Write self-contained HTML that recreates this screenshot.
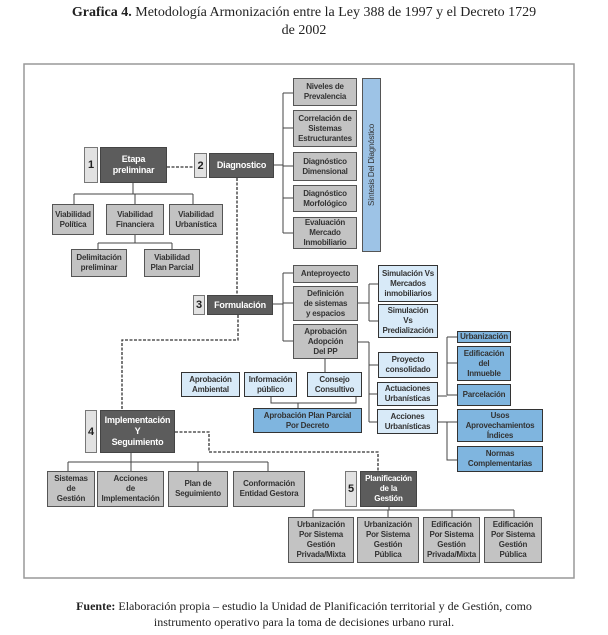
<!DOCTYPE html>
<html><head><meta charset="utf-8"><style>
body{margin:0;width:608px;height:635px;background:#fff;position:relative;overflow:hidden;font-family:"Liberation Sans",sans-serif}
.t{position:absolute;left:0;width:608px;text-align:center;font-family:"Liberation Serif",serif;font-size:14px;color:#222}
.b{position:absolute;box-sizing:border-box;display:flex;align-items:center;justify-content:center;text-align:center;font-size:8px;font-weight:bold;line-height:10px;color:#333;border:1.5px solid #555;background:#c3c3c3;letter-spacing:-0.2px}
.d{background:#5c5c5c;color:#fff;border-color:#444;font-size:9px;line-height:11px}
.n{background:#e2e2e2;color:#222;font-size:11px;border-color:#777}
.l{background:#d8eaf8;border-color:#333}
.m{background:#7fb5df;border-color:#333}
svg{position:absolute;left:0;top:0}
</style></head><body>
<div class="t" style="top:5px"><b>Grafica 4.</b> Metodología Armonización entre la Ley 388 de 1997 y el Decreto 1729</div>
<div class="t" style="top:23px">de 2002</div>
<svg width="608" height="635">
<rect x="24" y="64" width="550" height="514" fill="none" stroke="#999" stroke-width="1.5"/>
<g stroke="#444" stroke-width="1" fill="none">
<path d="M273 165H283M283 93V233M283 93H293M283 128H293M283 166H293M283 198H293M283 233H293"/>
<path d="M133 183V194M74 194H193M74 194V204M135 194V204M193 194V204"/>
<path d="M135 235V243M98 243H172M98 243V249M172 243V249"/>
<path d="M273 304H283M283 273V341M283 273H293M283 303H293M283 341H293"/>
<path d="M358 303H369M369 284V321M369 284H378M369 321H378"/>
<path d="M358 342H369M369 342V422M369 365H378M369 394H377M369 422H377"/>
<path d="M438 396H447M447 337V395M447 337H457M447 363H457M447 395H457"/>
<path d="M438 422H457M447 422V460H457"/>
<path d="M325 359V372M271 397V403H356V397M298 403V408"/>
<path d="M131 453V462M68 462H268M68 462V471M131 462V471M198 462V471M268 462V471"/>
<path d="M389 507V510M313 510H514M313 510V517M388 510V517M452 510V517M514 510V517"/>
</g>
<g stroke="#333" stroke-width="1.3" fill="none" stroke-dasharray="3,1.5">
<path d="M167 167H194"/>
<path d="M237 178V295M238 315V340H122V410"/>
<path d="M175 432H209V452H378V471"/>
</g>
</svg>
<div class="b n" style="left:84px;top:147px;width:14px;height:36px">1</div>
<div class="b d" style="left:100px;top:147px;width:67px;height:36px">Etapa<br>preliminar</div>
<div class="b n" style="left:194px;top:153px;width:13px;height:25px">2</div>
<div class="b d" style="left:209px;top:153px;width:65px;height:25px">Diagnostico</div>
<div class="b" style="left:293px;top:78px;width:64px;height:28px">Niveles de<br>Prevalencia</div>
<div class="b" style="left:293px;top:110px;width:64px;height:37px">Correlación de<br>Sistemas<br>Estructurantes</div>
<div class="b" style="left:293px;top:152px;width:64px;height:29px">Diagnóstico<br>Dimensional</div>
<div class="b" style="left:293px;top:185px;width:64px;height:27px">Diagnóstico<br>Morfológico</div>
<div class="b" style="left:293px;top:217px;width:64px;height:32px">Evaluación<br>Mercado<br>Inmobiliario</div>
<div class="b" style="left:362px;top:78px;width:19px;height:174px;background:#9dc3e6;border-color:#555"><span style="transform:rotate(-90deg);white-space:nowrap;font-weight:normal">Síntesis Del Diagnóstico</span></div>
<div class="b" style="left:52px;top:204px;width:42px;height:31px">Viabilidad<br>Política</div>
<div class="b" style="left:106px;top:204px;width:58px;height:31px">Viabilidad<br>Financiera</div>
<div class="b" style="left:169px;top:204px;width:54px;height:31px">Viabilidad<br>Urbanística</div>
<div class="b" style="left:71px;top:249px;width:56px;height:28px">Delimitación<br>preliminar</div>
<div class="b" style="left:144px;top:249px;width:56px;height:28px">Viabilidad<br>Plan Parcial</div>
<div class="b n" style="left:193px;top:295px;width:12px;height:20px">3</div>
<div class="b d" style="left:207px;top:295px;width:66px;height:20px">Formulación</div>
<div class="b" style="left:293px;top:265px;width:65px;height:18px">Anteproyecto</div>
<div class="b" style="left:293px;top:286px;width:65px;height:35px">Definición<br>de sistemas<br>y espacios</div>
<div class="b" style="left:293px;top:324px;width:65px;height:35px">Aprobación<br>Adopción<br>Del PP</div>
<div class="b l" style="left:378px;top:265px;width:60px;height:37px">Simulación Vs<br>Mercados<br>inmobiliarios</div>
<div class="b l" style="left:378px;top:304px;width:60px;height:34px">Simulación<br>Vs<br>Predialización</div>
<div class="b l" style="left:378px;top:352px;width:60px;height:26px">Proyecto<br>consolidado</div>
<div class="b l" style="left:377px;top:382px;width:61px;height:24px">Actuaciones<br>Urbanísticas</div>
<div class="b l" style="left:377px;top:409px;width:61px;height:25px">Acciones<br>Urbanísticas</div>
<div class="b m" style="left:457px;top:331px;width:54px;height:12px">Urbanización</div>
<div class="b m" style="left:457px;top:346px;width:54px;height:35px">Edificación<br>del<br>Inmueble</div>
<div class="b m" style="left:457px;top:384px;width:54px;height:22px">Parcelación</div>
<div class="b m" style="left:457px;top:409px;width:86px;height:33px">Usos<br>Aprovechamientos<br>Índices</div>
<div class="b m" style="left:457px;top:446px;width:86px;height:26px">Normas<br>Complementarias</div>
<div class="b l" style="left:181px;top:372px;width:59px;height:25px">Aprobación<br>Ambiental</div>
<div class="b l" style="left:244px;top:372px;width:53px;height:25px">Información<br>público</div>
<div class="b l" style="left:307px;top:372px;width:55px;height:25px">Consejo<br>Consultivo</div>
<div class="b m" style="left:253px;top:408px;width:109px;height:25px">Aprobación Plan Parcial<br>Por Decreto</div>
<div class="b n" style="left:85px;top:410px;width:12px;height:43px">4</div>
<div class="b d" style="left:100px;top:410px;width:75px;height:43px">Implementación<br>Y<br>Seguimiento</div>
<div class="b" style="left:47px;top:471px;width:48px;height:36px">Sistemas<br>de<br>Gestión</div>
<div class="b" style="left:97px;top:471px;width:67px;height:36px">Acciones<br>de<br>Implementación</div>
<div class="b" style="left:168px;top:471px;width:60px;height:36px">Plan de<br>Seguimiento</div>
<div class="b" style="left:233px;top:471px;width:72px;height:36px">Conformación<br>Entidad Gestora</div>
<div class="b n" style="left:345px;top:471px;width:12px;height:36px">5</div>
<div class="b d" style="left:360px;top:471px;width:57px;height:36px;font-size:8px;line-height:10px">Planificación<br>de la<br>Gestión</div>
<div class="b" style="left:288px;top:517px;width:66px;height:46px">Urbanización<br>Por Sistema<br>Gestión<br>Privada/Mixta</div>
<div class="b" style="left:357px;top:517px;width:62px;height:46px">Urbanización<br>Por Sistema<br>Gestión<br>Pública</div>
<div class="b" style="left:423px;top:517px;width:57px;height:46px">Edificación<br>Por Sistema<br>Gestión<br>Privada/Mixta</div>
<div class="b" style="left:484px;top:517px;width:58px;height:46px">Edificación<br>Por Sistema<br>Gestión<br>Pública</div>
<div class="t" style="top:599px;font-size:12px"><b>Fuente:</b> Elaboración propia – estudio la Unidad de Planificación territorial y de Gestión, como</div>
<div class="t" style="top:615px;font-size:12px">instrumento operativo para la toma de decisiones urbano rural.</div>
</body></html>
